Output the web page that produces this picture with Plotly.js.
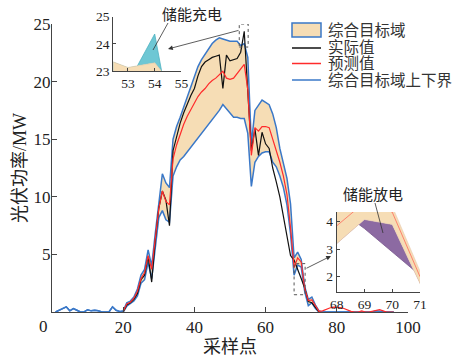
<!DOCTYPE html>
<html>
<head>
<meta charset="utf-8">
<script src="https://cdn.plot.ly/plotly-3.0.1.min.js"></script>
<style>html,body{margin:0;padding:0;background:#fff;}#chart{width:452px;height:357px;}</style>
</head>
<body>
<div id="chart"></div>
<script>
// ---------------- data ----------------
const samples = Array.from({length: 96}, (_, i) => i + 1);   // 采样点 1..96

const upperBound = [
  0,0.15,0.35,0.45,0.1,0.3,0.15,0,0,0.2,0.1,0.15,0.1,0,0,0,0.45,0.15,0.05,
  0.1,0.8,0.95,1.3,2.0,3.2,3.7,5.4,4.0,6.8,9.5,12.0,11.2,10.8,
  15.0,16.1,16.9,17.8,18.7,19.7,20.5,21.3,21.9,22.4,22.8,23.3,23.6,23.8,23.7,23.6,23.5,23.5,23.5,23.13,23.3,
  22.1,14.6,17.5,18.0,18.4,18.2,18.0,17.2,16.0,14.2,12.9,11.6,9.4,4.7,5.2,4.56,2.2,1.1,1.3,0.6,0.1,
  0,0,0,0,0,0,0,0,0,0,0.05,0,0,0.05,0,0.1,0.05,0,0,0,0
];
const lowerBound = [
  0,0.15,0.35,0.45,0.1,0.3,0.15,0,0,0.2,0.1,0.15,0.1,0,0,0,0.45,0.15,0.05,
  0,0.5,0.7,0.95,1.4,2.5,2.8,4.3,2.9,5.6,8.2,8.8,8.0,7.8,
  11.8,12.6,13.2,13.5,13.9,14.3,14.7,15.0,15.4,15.8,16.2,16.6,17.0,17.5,18.0,17.6,17.2,16.9,16.9,16.8,16.8,
  15.5,10.9,13.0,13.5,13.8,13.9,13.9,13.0,12.6,11.8,10.8,9.3,6.8,3.2,4.08,3.9,1.75,0.55,0.8,0.3,0,
  0,0,0,0,0,0,0,0,0,0,0,0,0,0,0,0,0,0,0,0,0
];
const actual = [
  null,null,null,null,null,null,null,null,null,null,null,null,null,null,null,null,null,null,null,
  0,0.6,0.8,1.1,1.6,2.8,3.2,4.8,2.6,6.2,9.0,10.5,9.7,7.5,
  14.0,15.2,16.4,17.3,18.1,18.8,19.4,20.5,21.3,21.7,21.9,22.1,22.2,22.3,19.4,22.3,21.8,21.9,22.0,22.55,24.36,
  19.1,14.0,15.9,13.6,15.6,14.6,14.2,12.5,11.3,10.0,8.3,6.6,4.9,4.5,3.75,2.9,2.05,0.9,0.8,0.4,0,
  null,null,null,null,null,null,null,null,null,null,null,null,null,null,null,null,null,null,null,null,null
];
const predicted = [
  null,null,null,null,null,null,null,null,null,null,null,null,null,null,null,null,null,null,null,
  0.05,0.7,0.85,1.2,1.8,2.9,3.4,4.9,3.7,6.4,9.0,10.5,9.6,9.3,
  13.3,14.5,15.5,16.3,17.0,17.6,18.2,18.7,19.1,19.4,19.8,20.1,20.3,20.6,20.9,20.3,20.2,20.3,20.7,21.2,21.5,
  19.3,13.6,16.0,15.7,16.1,16.1,16.0,15.0,14.2,13.0,11.8,10.2,7.3,3.85,4.7,4.35,2.0,1.0,1.05,0.5,0.05,
  0.1,0.25,0.35,0.42,0.42,0.38,0.3,0.15,0.05,0,0,0.1,0,0,0.05,0.15,0.2,0.1,0,0,0
];
const xTicks = [20, 40, 60, 80, 100];
const yTicks = [5, 10, 15, 20, 25];
const chargeTicksX = [53, 54, 55], chargeTicksY = [23, 24, 25];
const dischargeTicksX = [68, 69, 70, 71], dischargeTicksY = [2, 3, 4];
const chargeRange = [52, 56];     // sample window of the charging detail
const dischargeRange = [67, 72];  // sample window of the discharging detail
const legendLabels = ['综合目标域', '实际值', '预测值', '综合目标域上下界'];

// ---------------- styles ----------------
const BEIGE = '#F6DDB5', BLUE = '#3A78C8', RED = '#FF2B2B', BLACK = '#111111';
const CYAN = '#6EC7D4', PURPLE = '#8C6AA2';
const FONT = 'Liberation Serif, "Noto Sans CJK SC", serif';
const AX = '#444';

function win(arr, r) { // slice by sample window
  const out = [];
  samples.forEach((s, i) => { if (s >= r[0] && s <= r[1]) out.push(arr[i]); });
  return out;
}
const cx = win(samples, chargeRange), dx = win(samples, dischargeRange);

const traces = [];
// main: band
traces.push({x: samples, y: lowerBound, mode: 'lines', line: {width: 0, color: BEIGE}, hoverinfo: 'skip'});
traces.push({x: samples, y: upperBound, mode: 'lines', fill: 'tonexty', fillcolor: BEIGE, line: {width: 0, color: BEIGE}, hoverinfo: 'skip'});
traces.push({x: samples, y: upperBound, mode: 'lines', line: {color: BLUE, width: 1.5}});
traces.push({x: samples, y: lowerBound, mode: 'lines', line: {color: BLUE, width: 1.5}});
traces.push({x: samples, y: actual, mode: 'lines', line: {color: BLACK, width: 1.2}});
traces.push({x: samples, y: predicted, mode: 'lines', line: {color: RED, width: 1.2}});

// inset 1 : charging (actual above upper bound)
traces.push({x: cx, y: win(actual, chargeRange), xaxis: 'x2', yaxis: 'y2', mode: 'lines', line: {width: 0.8, color: '#4FB3C2'}});
traces.push({x: cx, y: win(upperBound, chargeRange), xaxis: 'x2', yaxis: 'y2', mode: 'lines', fill: 'tonexty', fillcolor: CYAN, line: {width: 0}});
traces.push({x: samples, y: lowerBound, xaxis: 'x2', yaxis: 'y2', mode: 'lines', line: {width: 0}});
traces.push({x: samples, y: upperBound, xaxis: 'x2', yaxis: 'y2', mode: 'lines', fill: 'tonexty', fillcolor: BEIGE, line: {width: 0.6, color: '#D9C6A6'}});

// inset 2 : discharging (actual below lower bound)
traces.push({x: dx, y: win(actual, dischargeRange), xaxis: 'x3', yaxis: 'y3', mode: 'lines', line: {width: 0.8, color: '#75538A'}});
traces.push({x: dx, y: win(lowerBound, dischargeRange), xaxis: 'x3', yaxis: 'y3', mode: 'lines', fill: 'tonexty', fillcolor: PURPLE, line: {width: 0}});
traces.push({x: samples, y: lowerBound, xaxis: 'x3', yaxis: 'y3', mode: 'lines', line: {width: 0.6, color: '#E8C9B0'}});
traces.push({x: samples, y: upperBound, xaxis: 'x3', yaxis: 'y3', mode: 'lines', fill: 'tonexty', fillcolor: BEIGE, line: {width: 0.6, color: '#E8C9B0'}});
traces.push({x: samples, y: predicted, xaxis: 'x3', yaxis: 'y3', mode: 'lines', line: {width: 0.8, color: '#FF6A5A'}});

// ---------------- layout ----------------
const L = 52, R = 20, T = 5, B = 45, W = 452, H = 357;
const PW = W - L - R, PH = H - T - B;
const px = v => (v - L) / PW;          // pixel -> paper x
const py = v => (H - B - v) / PH;      // pixel -> paper y

const baseAxis = {showline: true, linecolor: AX, linewidth: 1, ticks: 'inside', tickcolor: AX,
  showgrid: false, zeroline: false, tickfont: {family: FONT, color: '#222'}};

const shapes = [];
const annotations = [];
// dashed detail boxes (in data coords)
shapes.push({type: 'rect', xref: 'x', yref: 'y', x0: 52.6, x1: 55.1, y0: 23.0, y1: 25.0, line: {color: '#555', width: 1, dash: 'dot'}});
shapes.push({type: 'rect', xref: 'x', yref: 'y', x0: 68.0, x1: 71.1, y0: 1.5, y1: 4.2, line: {color: '#555', width: 1, dash: 'dot'}});
// leader lines
shapes.push({type: 'line', xref: 'paper', yref: 'paper', x0: px(168), y0: py(23), x1: px(153), y1: py(50), line: {color: '#333', width: 0.8}});
shapes.push({type: 'line', xref: 'paper', yref: 'paper', x0: px(375), y0: py(203), x1: px(383), y1: py(233), line: {color: '#333', width: 0.8}});
// arrows
annotations.push({xref: 'paper', yref: 'paper', x: px(168), y: py(49), ax: 72, ay: -19, text: '', showarrow: true, arrowhead: 2, arrowsize: 1.2, arrowwidth: 0.8, arrowcolor: '#333'});
annotations.push({xref: 'paper', yref: 'paper', x: px(331), y: py(256), ax: -26, ay: 13, text: '', showarrow: true, arrowhead: 2, arrowsize: 1.2, arrowwidth: 0.8, arrowcolor: '#333'});
annotations.push({xref: 'paper', yref: 'paper', x: px(192), y: py(15), xanchor: 'center', yanchor: 'middle', text: '储能充电', showarrow: false, font: {family: FONT, size: 15, color: '#222'}});
annotations.push({xref: 'paper', yref: 'paper', x: px(373), y: py(195), xanchor: 'center', yanchor: 'middle', text: '储能放电', showarrow: false, font: {family: FONT, size: 15, color: '#222'}});
// x label "0"
annotations.push({xref: 'paper', yref: 'paper', x: px(43.5), y: py(326), xanchor: 'center', yanchor: 'middle', text: '0', showarrow: false, font: {family: FONT, size: 17, color: '#222'}});

// legend (drawn by hand)
const lgX0 = px(292), lgX1 = px(321), lgTX = px(326);
const rowsY = [30, 48, 63.5, 80];
shapes.push({type: 'rect', xref: 'paper', yref: 'paper', x0: lgX0, x1: lgX1, y0: py(37), y1: py(23), fillcolor: BEIGE, line: {color: BLUE, width: 1.5}});
[[BLACK, 1], [RED, 2], [BLUE, 3]].forEach(([c, i]) => {
  shapes.push({type: 'line', xref: 'paper', yref: 'paper', x0: lgX0, x1: lgX1, y0: py(rowsY[i]), y1: py(rowsY[i]), line: {color: c, width: 1.5}});
});
legendLabels.forEach((t, i) => {
  annotations.push({xref: 'paper', yref: 'paper', x: lgTX, y: py(rowsY[i]), xanchor: 'left', yanchor: 'middle', text: t, showarrow: false, font: {family: FONT, size: 15.5, color: '#333'}});
});

const layout = {
  width: W, height: H, margin: {l: L, r: R, t: T, b: B},
  paper_bgcolor: '#fff', plot_bgcolor: 'rgba(0,0,0,0)', showlegend: false,
  font: {family: FONT},
  xaxis: Object.assign({}, baseAxis, {domain: [0, px(408)], range: [0, 100], tickvals: xTicks, ticklen: 5,
    tickfont: {family: FONT, size: 17, color: '#222'},
    title: {text: '采样点', font: {family: FONT, size: 18, color: '#222'}, standoff: 4}}),
  yaxis: Object.assign({}, baseAxis, {domain: [0, py(24)], range: [0, 25], tickvals: yTicks, ticklen: 5,
    ticklabelstandoff: -3,
    tickfont: {family: FONT, size: 17, color: '#222'},
    title: {text: '光伏功率/MW', font: {family: FONT, size: 18, color: '#222'}, standoff: 2}}),
  xaxis2: Object.assign({}, baseAxis, {anchor: 'y2', domain: [px(113.3), px(181.4)], range: [52.45, 55], tickvals: chargeTicksX, ticklen: 3,
    tickfont: {family: FONT, size: 13.5, color: '#222'}}),
  yaxis2: Object.assign({}, baseAxis, {anchor: 'x2', domain: [py(71), py(16.6)], range: [23, 25], tickvals: chargeTicksY, ticklen: 3,
    tickfont: {family: FONT, size: 13.5, color: '#222'}}),
  xaxis3: Object.assign({}, baseAxis, {anchor: 'y3', domain: [px(336.7), px(420)], range: [68, 71], tickvals: dischargeTicksX, ticklen: 3,
    tickfont: {family: FONT, size: 13.5, color: '#222'}}),
  yaxis3: Object.assign({}, baseAxis, {anchor: 'x3', domain: [py(291.8), py(212.1)], range: [1.45, 4.35], tickvals: dischargeTicksY, ticklen: 3,
    tickfont: {family: FONT, size: 13.5, color: '#222'}}),
  shapes: shapes,
  annotations: annotations
};

Plotly.newPlot('chart', traces, layout, {displayModeBar: false, staticPlot: true});
</script>
</body>
</html>
